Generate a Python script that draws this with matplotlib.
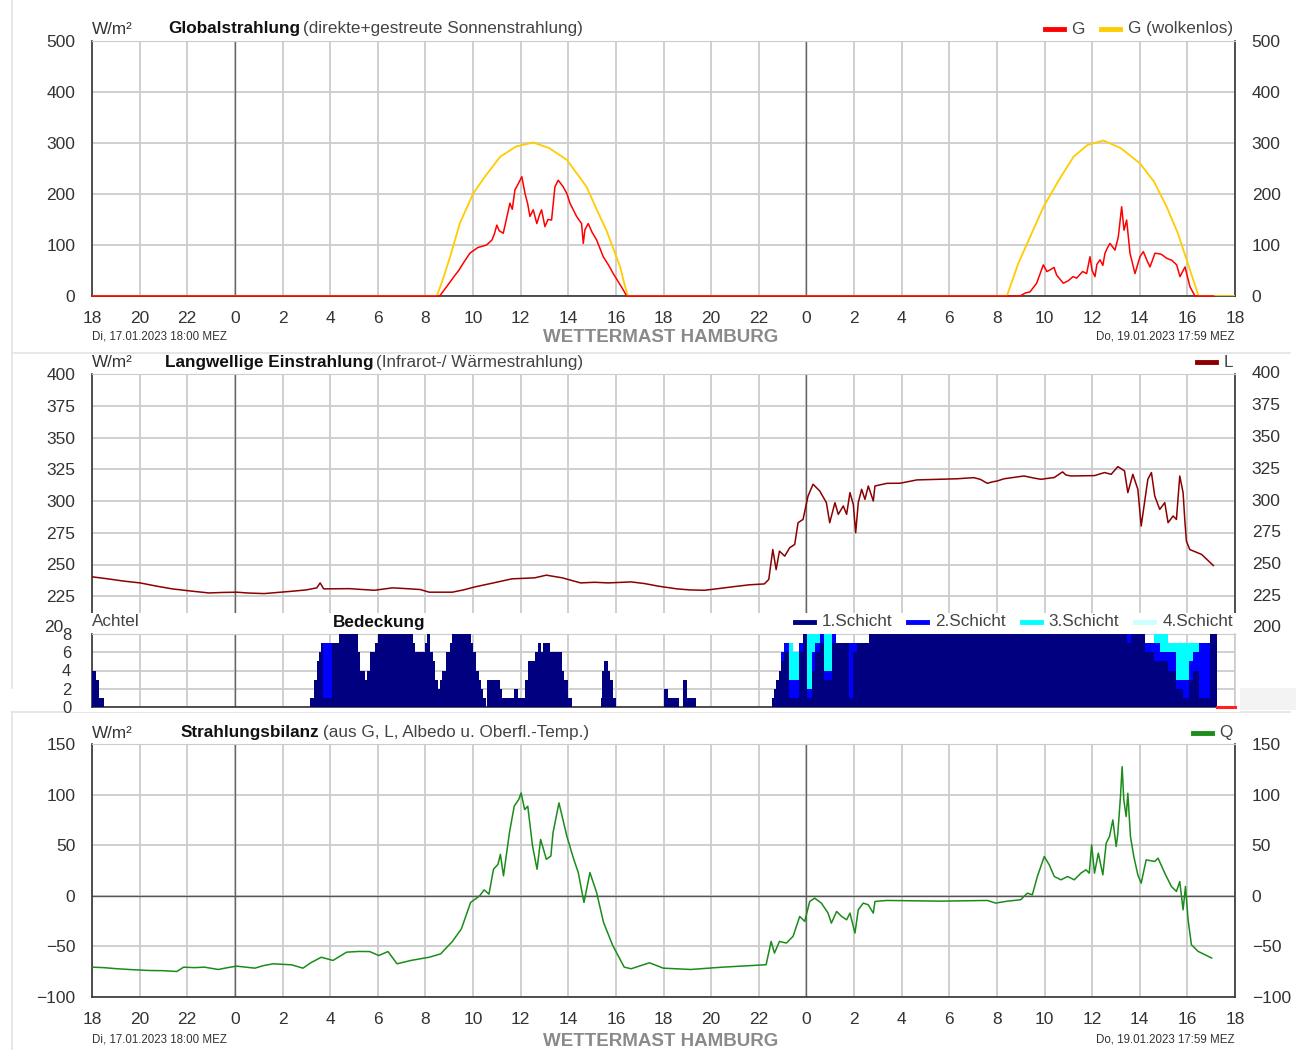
import matplotlib
matplotlib.use('Agg')
import matplotlib.pyplot as plt
from matplotlib.lines import Line2D
from matplotlib.patches import Rectangle
import numpy as np

plt.rcParams['font.family'] = ['Liberation Sans', 'DejaVu Sans']

# Zeit in Stunden ab Di 17.01.2023 18:00
HOUR_TICKS = list(range(0, 49, 2))
HOUR_LABELS = [str((18 + h) % 24) for h in HOUR_TICKS]

# Globalstrahlung G
G_T = [0, 14.6, 15.0, 15.2, 15.4, 15.6, 15.87, 16.2, 16.57, 16.8, 16.9, 17.0, 17.1, 17.27, 17.4,
       17.55, 17.65, 17.76, 17.9, 18.05, 18.18, 18.3, 18.39, 18.53, 18.68, 18.8, 18.88, 19.02, 19.15,
       19.3, 19.44, 19.58, 19.79, 19.95, 20.07, 20.2, 20.35, 20.56, 20.63, 20.7, 20.84, 21.0, 21.19,
       21.47, 21.7, 21.89, 22.1, 22.31, 22.45, 38.97, 39.2, 39.39, 39.67, 39.95, 40.1, 40.23, 40.4,
       40.51, 40.79, 41.0, 41.2, 41.35, 41.6, 41.77, 41.91, 42.0, 42.12, 42.2, 42.33, 42.45, 42.54,
       42.65, 42.75, 42.96, 43.1, 43.24, 43.34, 43.45, 43.59, 43.8, 44.01, 44.15, 44.3, 44.43, 44.64,
       44.9, 45.13, 45.35, 45.55, 45.69, 45.9, 46.11, 46.32, 47.1]
G_V = [0, 0, 25, 38, 50, 65, 84, 95, 100, 110, 122, 139, 128, 123, 150,
       182, 170, 208, 220, 234, 202, 180, 156, 169, 142, 160, 169, 136, 150,
       149, 214, 227, 214, 200, 182, 170, 156, 142, 103, 130, 142, 125, 110,
       77, 60, 44, 28, 12, 0, 0, 6, 8, 25, 61, 48, 51, 56,
       41, 25, 30, 38, 35, 48, 44, 77, 50, 38, 62, 71, 60, 84,
       95, 103, 90, 116, 175, 129, 149, 84, 44, 77, 87, 70, 57, 84,
       82, 74, 70, 61, 38, 57, 18, 0, 0]

# G (wolkenlos)
GC_T = [0, 14.48, 14.7, 15.04, 15.45, 16.01, 16.5, 17.14, 17.8, 18.53, 19.2, 19.94, 20.77, 21.2,
        21.6, 22.18, 22.35, 22.5, 38.42, 38.9, 39.96, 40.6, 41.22, 41.8, 42.47, 43.2, 44.01, 44.6,
        45.13, 45.6, 45.97, 46.47, 48]
GC_V = [0, 0, 28, 77, 143, 201, 234, 273, 293, 301, 290, 267, 214, 169,
        129, 57, 25, 0, 0, 64, 175, 227, 273, 296, 305, 290, 260, 224,
        175, 123, 71, 0, 0]

# Langwellige Einstrahlung L
L_T = [0, 0.67, 1.3, 2.02, 2.7, 3.37, 4.2, 4.91, 5.5, 6.07, 6.6, 7.23, 7.8, 8.38, 9.0, 9.44, 9.58,
       9.73, 10.8, 11.85, 12.62, 13.2, 13.78, 14.16, 15.13, 15.6, 16.09, 16.86, 17.63, 18.59, 19.08,
       19.75, 20.52, 21.1, 21.68, 22.64, 23.2, 23.8, 24.57, 25.1, 25.72, 26.3, 26.88, 27.6, 28.23,
       28.42, 28.59, 28.73, 28.87, 29.09, 29.3, 29.51, 29.65, 29.86, 30.07, 30.28, 30.56, 30.84,
       30.98, 31.2, 31.34, 31.55, 31.69, 31.83, 31.97, 32.07, 32.18, 32.32, 32.46, 32.6, 32.81,
       32.88, 33.38, 33.94, 34.64, 36.33, 37.03, 37.31, 37.6, 37.8, 38.02, 38.3, 39.14, 39.57,
       39.85, 40.41, 40.76, 40.9, 41.11, 42.1, 42.52, 42.8, 43.08,
       43.36, 43.5, 43.71, 43.92, 44.06, 44.2, 44.34, 44.49, 44.63, 44.84, 45.05, 45.19, 45.4,
       45.54, 45.68, 45.82, 45.89, 45.96, 46.1, 46.6, 47.09]
L_V = [240.3, 238.7, 237, 235.5, 233, 230.8, 229, 227.6, 228, 228.2, 227.5, 227.1, 228, 228.9, 230,
       231.6, 235.5, 230.8, 231, 229.7, 231.6, 231, 230.3, 228.2, 228.2, 230, 232.4, 235.5, 238.7,
       239.5, 241.6, 239.5, 235.5, 236, 235.5, 236.3, 235, 232.9, 230.8, 230, 229.7, 231, 232.4,
       234, 234.7, 238.2, 261.8, 246, 260.5, 256.6, 263.2, 265.8, 282.9, 285.5, 303.9, 313.2,
       307.9, 298.7, 282.9, 298.7, 289.5, 296.1, 289.5, 306.6, 297.4, 275, 298.7, 309.2, 301.3,
       311.8, 300, 311.8, 313.9, 314, 316.6, 317.5, 318.4, 317, 313.9, 315, 315.8, 317.5, 319.7, 318,
       317.1, 318.5, 322.9, 320.5, 319.7, 320, 322.4,
       321, 327.1, 323.7, 306.6, 321, 309.2, 280.3, 298.7, 317.1, 322.4, 303.9, 293.4, 298.7,
       282.9, 288.2, 285.5, 319.7, 306.6, 285.5, 268.4, 261.8, 257.9, 249.2]

# Bedeckung (Achtel), Stufen ab CLOUD_T, kumulativ je Schicht
CLOUD_T = [0, 0.17, 0.31, 0.52, 9.16, 9.34, 9.46, 9.55, 9.63, 9.69, 10.07, 10.38, 11.15, 11.25,
           11.46, 11.55, 11.69, 11.9, 12.02, 13.47, 13.55, 13.99, 14.08, 14.2, 14.3, 14.4, 14.51,
           14.62, 14.69, 14.86, 15.03, 15.12, 15.91, 15.99, 16.13, 16.25, 16.35, 16.43, 16.55,
           16.6, 17.13, 17.21, 17.74, 17.91, 18.17, 18.3, 18.61, 18.75, 18.87, 18.95, 19.22,
           19.74, 19.83, 19.97, 20.14, 21.36, 21.43, 21.52, 21.66, 21.74, 21.88, 22.0, 24.02,
           24.2, 24.63, 24.8, 24.98, 25.37, 28.55, 28.64, 28.73, 28.85, 28.95, 29.08, 29.25,
           29.43, 29.69, 29.86, 30.03, 30.24, 30.38, 30.56, 30.73, 31.08, 31.25, 31.78, 31.95,
           32.13, 32.65, 43.45, 43.62, 44.23, 44.58, 44.84, 45.19, 45.54, 45.8, 46.06, 46.24,
           46.5, 46.93, 47.25]
CLOUD_1 = [4, 3, 1, 0, 1, 3, 5, 6, 7, 1, 7, 8, 6, 4,
           3, 4, 6, 7, 8, 7, 6, 7, 8, 6, 5, 3, 2,
           3, 4, 6, 7, 8, 7, 6, 4, 3, 2, 1, 0,
           3, 2, 1, 2, 1, 3, 5, 6, 7, 6, 7, 6,
           4, 3, 1, 0, 1, 4, 5, 4, 3, 1, 0, 2,
           1, 0, 3, 1, 0, 1, 2, 3, 4, 5, 6, 1,
           1, 6, 8, 1, 4, 6, 7, 3, 7, 7, 1, 6,
           7, 8, 7, 8, 6, 5, 5, 4, 2, 1, 3, 4,
           1, 8, 0]
CLOUD_2 = [4, 3, 1, 0, 1, 3, 5, 6, 7, 7, 7, 8, 6, 4,
           3, 4, 6, 7, 8, 7, 6, 7, 8, 6, 5, 3, 2,
           3, 4, 6, 7, 8, 7, 6, 4, 3, 2, 1, 0,
           3, 2, 1, 2, 1, 3, 5, 6, 7, 6, 7, 6,
           4, 3, 1, 0, 1, 4, 5, 4, 3, 1, 0, 2,
           1, 0, 3, 1, 0, 1, 2, 3, 4, 6, 7, 3,
           3, 7, 8, 2, 6, 7, 8, 4, 8, 7, 7, 7,
           7, 8, 8, 8, 7, 7, 6, 6, 3, 3, 5, 6,
           7, 8, 0]
CLOUD_3 = [4, 3, 1, 0, 1, 3, 5, 6, 7, 7, 7, 8, 6, 4,
           3, 4, 6, 7, 8, 7, 6, 7, 8, 6, 5, 3, 2,
           3, 4, 6, 7, 8, 7, 6, 4, 3, 2, 1, 0,
           3, 2, 1, 2, 1, 3, 5, 6, 7, 6, 7, 6,
           4, 3, 1, 0, 1, 4, 5, 4, 3, 1, 0, 2,
           1, 0, 3, 1, 0, 1, 2, 3, 4, 6, 7, 7,
           6, 7, 8, 8, 8, 8, 8, 8, 8, 7, 7, 7,
           7, 8, 8, 8, 7, 8, 8, 7, 7, 7, 7, 7,
           7, 8, 0]

# Strahlungsbilanz Q
Q_T = [0, 0.5, 1.06, 1.7, 2.41, 3.0, 3.56, 3.85, 4.3, 4.72, 5.3, 5.7, 6.07, 6.84, 7.2, 7.61, 8.38,
       8.86, 9.2, 9.63, 10.12, 10.69, 11.2, 11.66, 12.04, 12.43, 12.81, 13.39, 14.16, 14.64, 15.13,
       15.51, 15.9, 16.28, 16.47, 16.67, 16.86, 17.05, 17.15, 17.28, 17.53, 17.73, 17.92, 18.02,
       18.17, 18.3, 18.5, 18.69, 18.84, 19.08, 19.27, 19.36, 19.61, 19.94, 20.23, 20.42, 20.66,
       20.91, 21.19, 21.48, 21.87, 22.35, 22.64, 23.41, 23.99, 25.14, 26.49, 28.31, 28.52, 28.66,
       28.87, 29.16, 29.44, 29.72, 29.93, 30.14, 30.35, 30.63, 30.91, 31.05, 31.27, 31.48, 31.69,
       31.83, 32.04, 32.18, 32.39, 32.6, 32.81, 32.88, 33.38, 35.63, 37.6, 37.95, 38.44, 39.0,
       39.28, 39.49, 39.7, 39.99, 40.2, 40.41, 40.69, 40.97, 41.25, 41.53, 41.74, 41.88, 41.98,
       42.1, 42.26, 42.45, 42.59, 42.73, 42.87, 43.01, 43.08, 43.19, 43.26, 43.33, 43.43, 43.5,
       43.61, 43.75, 43.92, 44.06, 44.27, 44.63, 44.77, 45.05, 45.33, 45.54, 45.68, 45.82, 45.92,
       46.03, 46.17, 46.45, 47.02]
Q_V = [-70.5, -71, -72.1, -73, -73.8, -74, -74.8, -70.5, -71, -70.5, -72.8, -71, -69.5, -71.5, -69,
       -67.2, -68.2, -71.5, -66, -60.7, -63.9, -55.7, -55, -55.1, -59, -55.1, -67.2, -63.9, -60.7,
       -57.4, -45.2, -32.8, -6.6, 0, 5.9, 1.6, 26.2, 31.1, 41, 19.7, 62.3, 88.5, 95.1, 101.6, 85.2,
       88.5, 49.2, 26.2, 55.7, 36.1, 39.3, 62.3, 91.8, 59, 36.1, 23, -6.6, 23, 3.3, -26.2, -49.2,
       -70.5, -72.1, -66.2, -71.5, -72.8, -70.5, -68.1, -45.1, -56.6, -45.1, -46.7, -40.1, -20.4,
       -25.3, -5.6, -2.3, -7.2, -17.1, -27, -15.5, -20.4, -23.7, -17.1, -36.8, -13.8, -7.2, -8.9,
       -17.1, -5.6, -4.6, -5.3, -4.6, -7.2, -5.3, -3.9, 2.6, 1, 19.1, 38.8, 30.6, 19.1, 15.8, 19.1,
       15.8, 22.4, 25.7, 22.4, 50.3, 22.4, 42.1, 20.7, 52, 58.6, 75, 48.7, 61.8, 98, 127.6, 94.7,
       78.3, 101.3, 58.6, 38.8, 20.7, 12.5, 35.5, 33.9, 37.2, 22.4, 9.2, 4.3, 14.1, -13.8, 9.2,
       -23.7, -48.4, -54.9, -61.5]

W, H = 1296, 1050
X0, X1 = 92, 1235
GRID = '#cccccc'
DARK = '#333333'
TXT = '#444444'
TSIZE = 12.3

fig = plt.figure(figsize=(W / 100, H / 100), dpi=100)
r = fig.canvas.get_renderer()


def ptext(x, y, s, **kw):
    kw.setdefault('va', 'center')
    kw.setdefault('zorder', 6)
    return fig.text(x / W, 1 - y / H, s, **kw)


def panel(top, bot, ylim, yticks, xlabels=True, right=True, size=12.5):
    ax = fig.add_axes([X0 / W, 1 - bot / H, (X1 - X0) / W, (bot - top) / H])
    ax.set_xlim(0, 48)
    ax.set_ylim(*ylim)
    ax.set_xticks(HOUR_TICKS)
    ax.set_xticklabels(HOUR_LABELS if xlabels else [])
    ax.set_yticks(yticks)
    ax.grid(True, color=GRID, lw=1.3)
    ax.set_axisbelow(True)
    ax.tick_params(length=0, labelsize=size, colors=DARK, labelright=right, pad=12)
    ax.tick_params(axis='x', pad=11)
    for s in ['left', 'right', 'bottom']:
        ax.spines[s].set_color(DARK)
        ax.spines[s].set_linewidth(1.2)
    ax.spines['top'].set_color(GRID)
    for m in (6, 30):
        ax.axvline(m, color='#666666', lw=1.0, zorder=1)
    return ax


def title(y, x, bold, rest):
    ptext(X0, y, 'W/m²', fontsize=TSIZE, color=DARK)
    t = ptext(x, y, bold, fontsize=TSIZE, fontweight='bold', color='#111111')
    bb = t.get_window_extent(r)
    ptext(bb.x1 + 3, y, rest, fontsize=TSIZE, color=TXT)


def legend_row(y, right, items, size=TSIZE):
    x = right
    for label, color in reversed(items):
        t = ptext(x, y, label, ha='right', fontsize=size, color=TXT)
        bb = t.get_window_extent(r)
        xe = bb.x0 - 8
        fig.add_artist(Line2D([(xe - 19) / W, xe / W], [1 - y / H] * 2, color=color, lw=3.5,
                              transform=fig.transFigure, zorder=6))
        x = xe - 19 - 16


def footer(y):
    ptext(X0, y, 'Di, 17.01.2023 18:00 MEZ', fontsize=8.3, color=DARK)
    ptext(661, y + 1, 'WETTERMAST HAMBURG', ha='center', fontsize=13.5, fontweight='bold', color='#8a8a8a')
    ptext(X1, y, 'Do, 19.01.2023 17:59 MEZ', ha='right', fontsize=8.3, color=DARK)


# rahmenlinien des screenshots
for xs, ys in [([12, 12], [0, 688]), ([12, 1290], [353, 353]), ([12, 1290], [712, 712]),
               ([12, 12], [712, 1050])]:
    fig.add_artist(Line2D([v / W for v in xs], [1 - v / H for v in ys], color='#e3e3e3', lw=1.2,
                          transform=fig.transFigure, zorder=-1))
fig.add_artist(Rectangle((1240 / W, 1 - 710 / H), 56 / W, 22 / H, transform=fig.transFigure,
                         facecolor='#f3f3f3', edgecolor='none', zorder=-1))

# --- Globalstrahlung ---
ax1 = panel(41, 296, (0, 500), [0, 100, 200, 300, 400, 500])
ax1.plot(GC_T, GC_V, color='#ffcc00', lw=1.3, zorder=3)
ax1.plot(G_T, G_V, color='#ff0000', lw=1.1, zorder=4, clip_on=False)
title(29, 168, 'Globalstrahlung', '(direkte+gestreute Sonnenstrahlung)')
legend_row(29, 1233, [('G', '#ff0000'), ('G (wolkenlos)', '#ffcc00')])
footer(337)

# --- Langwellige Einstrahlung ---
ax2 = panel(374, 628, (200, 400), [200, 225, 250, 275, 300, 325, 350, 375, 400], xlabels=False,
            right=False)
ax2.set_zorder(1)
ax2.set_yticklabels([''] + [str(v) for v in range(225, 401, 25)])
for v in range(225, 401, 25):
    ax2.annotate(str(v), (1, v), xycoords=('axes fraction', 'data'), xytext=(12, 0),
                 textcoords='offset points', va='center', fontsize=12.5, color=DARK)
ax2.plot(L_T, L_V, color='#8b0000', lw=1.1, zorder=4)
title(362, 165, 'Langwellige Einstrahlung', '(Infrarot-/ Wärmestrahlung)')
legend_row(362, 1233, [('L', '#8b0000')])
# die 200 wird links von der Bedeckungsgrafik angeschnitten -> nur "20" sichtbar
ptext(63, 628, '20', ha='right', fontsize=12.5, color=DARK)
ptext(1252, 628, '200', fontsize=12.5, color=DARK)

cover = Rectangle((66 / W, 1 - 712 / H), (1240 - 66) / W, (712 - 613) / H, transform=fig.transFigure,
                  facecolor='white', edgecolor='none', zorder=2)
fig.add_artist(cover)

# --- Bedeckung ---
ax3 = panel(634, 707, (0, 8), [0, 2, 4, 6, 8], xlabels=False, right=False, size=12)
ax3.set_zorder(3)
ax3.tick_params(axis='y', pad=15)
ax3.spines['right'].set_color(GRID)
for vals, color in [(CLOUD_3, '#00ffff'), (CLOUD_2, '#0000ff'), (CLOUD_1, '#000080')]:
    ax3.fill_between(CLOUD_T, 0, vals, step='post', color=color, lw=0, zorder=3)
ax3.plot([CLOUD_T[-1], 48], [0, 0], color='#ff2020', lw=2.2, zorder=5, clip_on=False)
ptext(X0, 622, 'Achtel', fontsize=TSIZE, color=TXT)
ptext(333, 622, 'Bedeckung', fontsize=TSIZE, fontweight='bold', color='#111111')
legend_row(622, 1233, [('1.Schicht', '#000080'), ('2.Schicht', '#0000ff'),
                       ('3.Schicht', '#00ffff'), ('4.Schicht', '#ccffff')])

# --- Strahlungsbilanz ---
ax4 = panel(744, 997, (-100, 150), [-100, -50, 0, 50, 100, 150])
ax4.axhline(0, color='#555555', lw=1.0, zorder=2)
ax4.plot(Q_T, Q_V, color='#1a8c1a', lw=1.1, zorder=4)
title(733, 181, 'Strahlungsbilanz', '(aus G, L, Albedo u. Oberfl.-Temp.)')
legend_row(733, 1233, [('Q', '#1a8c1a')])
footer(1040)

fig.savefig('out.png', dpi=100)
